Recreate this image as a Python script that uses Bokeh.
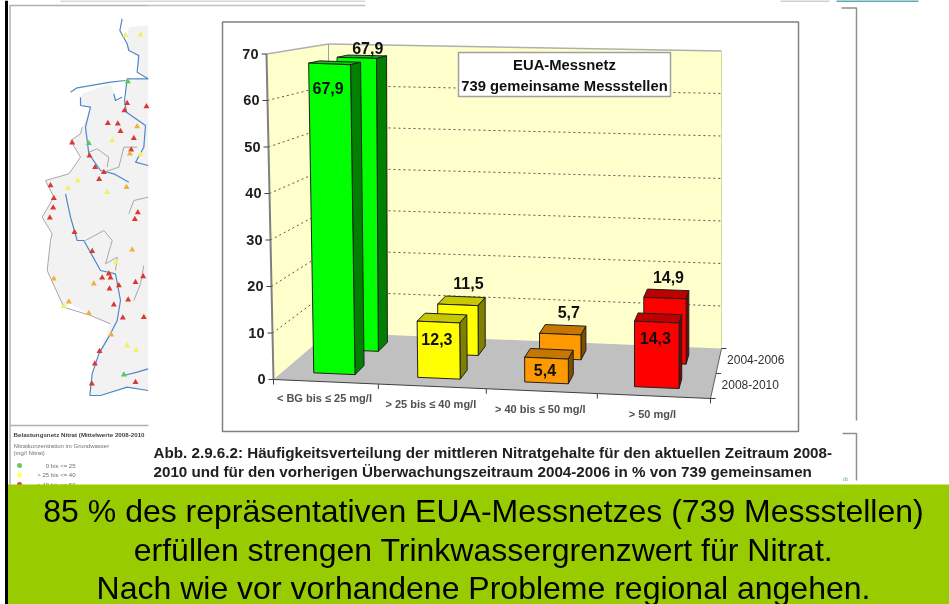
from bokeh.plotting import figure
from bokeh.embed import file_html
from bokeh.resources import INLINE
from bokeh.core.properties import value
import numpy as np

# ---------- chart data ----------
categories = ["< BG bis ≤ 25 mg/l", "> 25 bis ≤ 40 mg/l", "> 40 bis ≤ 50 mg/l", "> 50 mg/l"]
series_names = ["2004-2006", "2008-2010"]
vals_2008_2010 = [67.9, 12.3, 5.4, 14.3]
vals_2004_2006 = [67.9, 11.5, 5.7, 14.9]
y_ticks = [0, 10, 20, 30, 40, 50, 60, 70]
face_colors = ["#00FF00", "#FFFF00", "#FF9900", "#FF0000"]
side_colors = ["#007F00", "#7F7F00", "#7F4C00", "#800000"]
top_colors = ["#00CC00", "#C8C800", "#C67700", "#BF0000"]

box_title = ["EUA-Messnetz", "739 gemeinsame Messstellen"]
caption = ["Abb. 2.9.6.2: Häufigkeitsverteilung der mittleren Nitratgehalte für den aktuellen Zeitraum 2008-",
           "2010 und für den vorherigen Überwachungszeitraum 2004-2006 in % von 739 gemeinsamen",
           "Messstellen des EUA-Messnetzes"]
banner = ["85 % des repräsentativen EUA-Messnetzes (739 Messstellen)",
          "erfüllen strengen Trinkwassergrenzwert für Nitrat.",
          "Nach wie vor vorhandene Probleme regional angehen."]
map_legend_title = "Belastungsnetz Nitrat (Mittelwerte 2008-2010"
map_legend_sub = ["Nitratkonzentration im Grundwasser", "(mg/l Nitrat)"]
map_legend_items = ["0 bis <= 25", "> 25 bis <= 40", "> 40 bis <= 50"]
map_legend_colors = ["#66CC55", "#FFFF66", "#E04030"]

# ---------- sketch-map traces (zoomed reference coordinates, thirds of a pixel) ----------
land_north = [(443,75),(385,80),(380,120),(385,150),(410,170),(415,210),(443,235)]
land_main = [(443,238),(380,240),(375,300),(350,300),
        (330,250),(245,280),(240,315),(270,320),(245,380),(240,400),(210,420),(240,470),(205,520),(135,540),
        (160,590),(125,650),(155,700),(150,720),(140,810),(190,920),(210,910),(270,945),(330,970),(295,1060),
        (275,1120),(268,1185),(300,1185),(380,1160),(443,1170)]
blue = [[(365,55),(358,90),(380,130),(385,150),(415,165),(410,215),(443,235),(380,235),(372,300),(378,335),(435,375),(430,440),(405,485),(443,495)],
        [(210,275),(230,262),(330,245),(375,240)],
        [(240,290),(240,315),(270,320),(255,380),(265,460),(300,510),(340,520),(385,545)],
        [(195,580),(210,650),(230,720),(250,720),(300,810),(345,820),(360,900),(350,960),(330,1000),(295,1060),(275,1120),(268,1185),(300,1185),(380,1160),(443,1170)],
        [(370,1125),(410,1115),(443,1105)],[(340,280),(345,300),(365,290)]]
grey = [[(245,380),(240,400),(210,420),(240,470),(205,520),(135,540),(160,590),(125,650),(155,700),(150,720),(140,810),(190,920),(270,945),(330,970)],
        [(265,455),(290,445),(325,470),(320,500)],[(310,515),(355,500),(370,440),(410,440)],
        [(385,640),(400,600),(443,590)],[(255,720),(310,690),(335,720),(315,790),(350,770),(345,810)],
        [(430,795),(420,850),(400,900)]]
red_pts = [(322,368),(352,370),(360,392),(400,413),(392,448),(215,427),(267,466),(284,500),(310,515),(296,536),
           (150,555),(160,593),(158,622),(148,652),(222,695),(412,636),(403,656),(380,308),(372,330),(438,318),
           (275,752),(325,820),(305,832),(330,832),(327,865),(355,855),(405,845),(428,828),(383,898),(340,913),
           (367,952),(430,950),(297,1052),(283,1090),(274,1150),(405,1145)]
orange_pts = [(410,378),(388,460),(378,560),(395,748),(160,835),(280,850),(205,904),(265,938),(332,1003)]
yellow_pts = [(420,103),(375,105),(335,420),(420,462),(232,540),(202,563),(320,575),(347,785),(190,917),(380,1035),(407,1050)]
green_pts = [(382,243),(265,428),(370,1123)]

FONT = value("Liberation Sans")
p = figure(width=949, height=604, x_range=(0, 949), y_range=(604, 0), output_backend="svg",
           toolbar_location=None, x_axis_location=None, y_axis_location=None,
           min_border=0, outline_line_color=None, background_fill_color="white")
p.styles = {"position": "fixed", "left": "0px", "top": "0px"}
p.grid.visible = False


def txt(x, y, s, size, color="black", bold=False, align="center", alpha=1.0):
    p.text([x], [y], text=[s], text_font=FONT, text_font_size=value(f"{size}px"), text_color=color,
           text_font_style="bold" if bold else "normal", text_align=align, text_baseline="middle",
           text_alpha=alpha)


def line(xs, ys, color="#808080", w=1.0, dash="solid"):
    p.line(xs, ys, line_color=color, line_width=w, line_dash=dash)


# ---------- slide frame ----------
line([6, 6], [0, 604], "black", 3)
line([9.5, 9.5, 148], [485, 5, 5], "#B0B0B0", 1.5)
line([148, 365], [5, 5], "#C0C0C0", 1.5)
line([60, 365], [0.5, 0.5], "#C8C8C8", 1.5)
line([780, 829], [0.5, 0.5], "#C0C0C0", 1.5)
line([836, 918], [0.5, 0.5], "#5AA9B5", 2)
line([841, 856, 856], [7.5, 7.5, 420], "#909090", 1.5)
line([842, 856, 856], [433, 433, 480], "#909090", 1.5)
line([10, 148], [425, 425], "#B0B0B0", 1.5)
txt(845, 478, "dt", 6, "#66BB66")

# ---------- sketch map ----------
for land in (land_north, land_main):
    p.patch([a / 3 for a, _ in land], [b / 3 for _, b in land], fill_color="#F2F2F2", line_color=None)
p.multi_line([[a / 3 for a, _ in t] for t in grey], [[b / 3 for _, b in t] for t in grey],
             line_color="#A8A8A8", line_width=1)
p.multi_line([[a / 3 for a, _ in t] for t in blue], [[b / 3 for _, b in t] for t in blue],
             line_color="#4F86C6", line_width=1.2)
for pts, col in [(red_pts, "#D83A30"), (orange_pts, "#F0B040"), (yellow_pts, "#F5F060"), (green_pts, "#55CC55")]:
    p.scatter([a / 3 for a, _ in pts], [b / 3 for _, b in pts], marker="triangle", size=6,
              fill_color=col, line_color=None)

txt(13, 434, map_legend_title, 6.2, "#404040", True, "left")
txt(13, 445, map_legend_sub[0], 6, "#707070", False, "left")
txt(13, 452, map_legend_sub[1], 6, "#707070", False, "left")
for i, (lab, col) in enumerate(zip(map_legend_items, map_legend_colors)):
    yy = 465 + 9.5 * i
    p.scatter([19], [yy], marker="circle", size=5, fill_color=col, line_color=None)
    txt(75, yy, lab, 6, "#707070", False, "right")

# ---------- 3D projection ----------
FRONT_FRAC = [0, 0.240, 0.487, 0.741, 1]


def project(u, v, h):
    f = np.interp(u, [0, 1, 2, 3, 4], FRONT_FRAC)
    fx, fy = 273 + 437 * f, 379 + 19 * f
    bx, by = 328 + 393 * f, 332 + 16 * f
    sc_front, sc_back = 4.65, 4.12 + 0.13 * f
    lean = (1 - v) * (-0.1 * (1 - f) + 0.02 * f)
    sc = sc_front + (sc_back - sc_front) * v
    return fx + (bx - fx) * v + lean * h, fy + (by - fy) * v - sc * h


def poly(points, fill, lc="#555555", w=1.0):
    xy = [project(*q) for q in points]
    p.patch([a for a, _ in xy], [b for _, b in xy], fill_color=fill, line_color=lc, line_width=w)


def seg(a, b, color="#808080", w=1.0, dash="solid"):
    pa, pb = project(*a), project(*b)
    line([pa[0], pb[0]], [pa[1], pb[1]], color, w, dash)


# chart panel
p.quad(left=[222], right=[798], top=[21.5], bottom=[431], fill_color="white", line_color="#808080", line_width=1.5)

# walls and floor
TOP = y_ticks[-1]
WALL = "#FFFFCC"
poly([(0, 0, 0), (0, 1, 0), (0, 1, TOP), (0, 0, TOP)], WALL, None)
poly([(0, 1, 0), (4, 1, 0), (4, 1, TOP), (0, 1, TOP)], WALL, None)
poly([(0, 0, 0), (4, 0, 0), (4, 1, 0), (0, 1, 0)], "#C0C0C0", None)
for t in y_ticks[1:-1]:
    seg((0, 0, t), (0, 1, t), "#555555", 1, "2 3")
    seg((0, 1, t), (4, 1, t), "#555555", 1, "2 3")
seg((0, 0, TOP), (0, 1, TOP), "#B0B0B0", 1.5)
seg((0, 1, TOP), (4, 1, TOP), "#B0B0B0", 1.5)
seg((0, 1, 0), (0, 1, TOP), "#A0A0A0", 1)
seg((4, 1, 0), (4, 1, TOP), "#D8D8A0", 1)
seg((0, 0, 0), (0, 0, TOP), "#808080", 2)
seg((0, 0, 0), (4, 0, 0), "#404040", 1)
seg((4, 0, 0), (4, 1, 0), "#606060", 1)
for t in y_ticks:
    x0, y0 = project(0, 0, t)
    line([x0 - 5, x0], [y0, y0], "#404040", 1)
    txt(x0 - 8, y0 - 0.5, str(t), 14.5, "#202020", True, "right")
for u in range(5):
    x0, y0 = project(u, 0, 0)
    line([x0, x0], [y0, y0 + 5], "#404040", 1)
for v in (0, 0.5, 1):
    x0, y0 = project(4, v, 0)
    line([x0, x0 + 5], [y0, y0], "#404040", 1)

cat_dy = [16, 18, 18, 18]
for i, c in enumerate(categories):
    x0, y0 = project(i + 0.5, 0, 0)
    txt(x0 - 1.5, y0 + cat_dy[i], c, 11, "#505050", True)
x0, y0 = project(4, 0.75, 0)
txt(x0 + 37, y0 - 2, series_names[0], 12, "#303030")
x0, y0 = project(4, 0.25, 0)
txt(x0 + 37, y0 - 2, series_names[1], 12, "#303030")

# legend box
p.quad(left=[458], right=[670], top=[52], bottom=[96], fill_color="white", line_color="#A0A0A0", line_width=1.5)
txt(564, 64, box_title[0], 14.8, "#101010", True)
txt(564, 85, box_title[1], 14.8, "#101010", True)


def bar(i, v0, v1, val):
    u0, u1 = i + 0.3, i + 0.7
    poly([(u0, v1, val), (u1, v1, val), (u1, v0, val), (u0, v0, val)], top_colors[i], "#202020")
    poly([(u1, v0, 0), (u1, v1, 0), (u1, v1, val), (u1, v0, val)], side_colors[i], "#202020")
    poly([(u0, v0, 0), (u1, v0, 0), (u1, v0, val), (u0, v0, val)], face_colors[i], "#202020")


def fmt(x):
    return f"{x:.1f}".replace(".", ",")


back_v, front_v = (0.66, 0.85), (0.17, 0.36)
for i, val in enumerate(vals_2004_2006):
    bar(i, *back_v, val)
for i, val in enumerate(vals_2008_2010):
    bar(i, *front_v, val)

back_dy = [-9, -18, -18, -17]
back_dx = [6, 7, 6, 2]
front_dy = [24, 17, 12, 16]
for i, val in enumerate(vals_2004_2006):
    x0, y0 = project(i + 0.5, 0.75, val)
    txt(x0 + back_dx[i], y0 + back_dy[i], fmt(val), 16, "#101010", True)
for i, val in enumerate(vals_2008_2010):
    x0, y0 = project(i + 0.5, front_v[0], val)
    txt(x0 - 1.5, y0 + front_dy[i], fmt(val), 16, "#101010", True)

# caption
for s, yy in zip(caption, (452, 471, 490)):
    txt(153, yy, s, 15.2, "#202020", True, "left")

# banner
p.quad(left=[7.5], right=[949], top=[484], bottom=[604], fill_color="#99CC00", line_color=None)
for s, yy in zip(banner, (510, 549, 587)):
    txt(483, yy, s, 32, "black")

open("out.html", "w").write(file_html(p, INLINE))
